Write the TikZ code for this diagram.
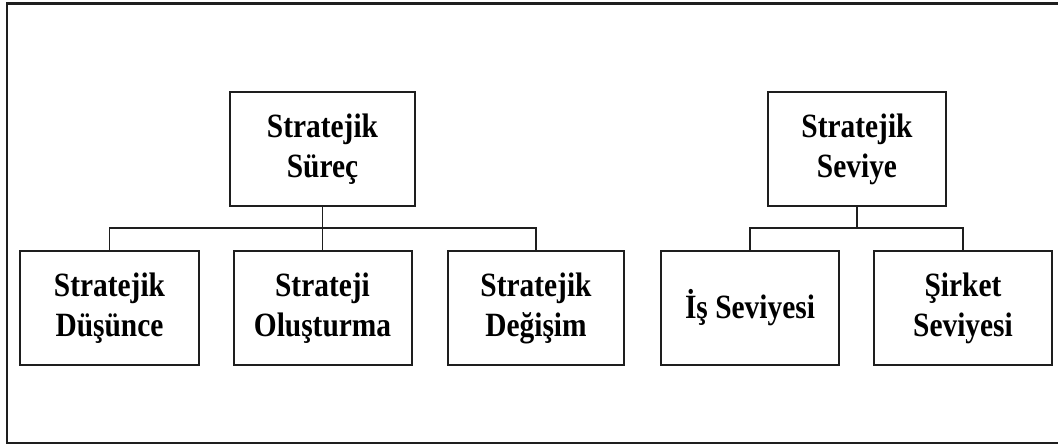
\documentclass[tikz,border=0pt]{standalone}
\usepackage{fontspec}
\usepackage{graphicx}
\setmainfont{Liberation Serif}
\newcommand{\sq}[1]{\scalebox{0.865}[1]{#1}}
\definecolor{ink}{HTML}{1E1E1E}
\begin{document}
\begin{tikzpicture}[x=1pt,y=-1pt,
  boxnode/.style={draw=ink,line width=2pt,fill=white,inner sep=0pt,
    minimum height=114pt,align=center,
    font=\fontsize{34}{40}\selectfont\bfseries},
  link/.style={draw=ink,line width=1.6pt}]
\useasboundingbox (0,0) rectangle (1058,447);
% outer frame (open on the right)
\draw[ink,line width=2.4pt] (1058,3.5) -- (7,3.5) -- (7,443) -- (1058,443);
% left tree
\node[boxnode,minimum width=185pt] (sp) at (322.5,149) {\sq{Stratejik}\\\sq{Süreç}};
\node[boxnode,minimum width=179pt] (dus) at (109.5,308) {\sq{Stratejik}\\\sq{Düşünce}};
\node[boxnode,minimum width=178pt] (olus) at (322.5,308) {\sq{Strateji}\\\sq{Oluşturma}};
\node[boxnode,minimum width=176pt] (deg) at (536,308) {\sq{Stratejik}\\\sq{Değişim}};
% right tree
\node[boxnode,minimum width=178pt] (sv) at (857,149) {\sq{Stratejik}\\\sq{Seviye}};
\node[boxnode,minimum width=178pt] (is) at (750,308) {\sq{İş Seviyesi}};
\node[boxnode,minimum width=178pt] (sir) at (963,308) {\sq{Şirket}\\\sq{Seviyesi}};
% connectors
\path (dus.north) ++(0,-22) coordinate (barL);
\draw[link] (dus.north) -- (barL) -| (deg.north);
\draw[link] (sp.south) -- (olus.north);
\path (is.north) ++(0,-22) coordinate (barR);
\draw[link] (is.north) -- (barR) -| (sir.north);
\draw[link] (sv.south) -- (sv.south |- barR);
\end{tikzpicture}
\end{document}
